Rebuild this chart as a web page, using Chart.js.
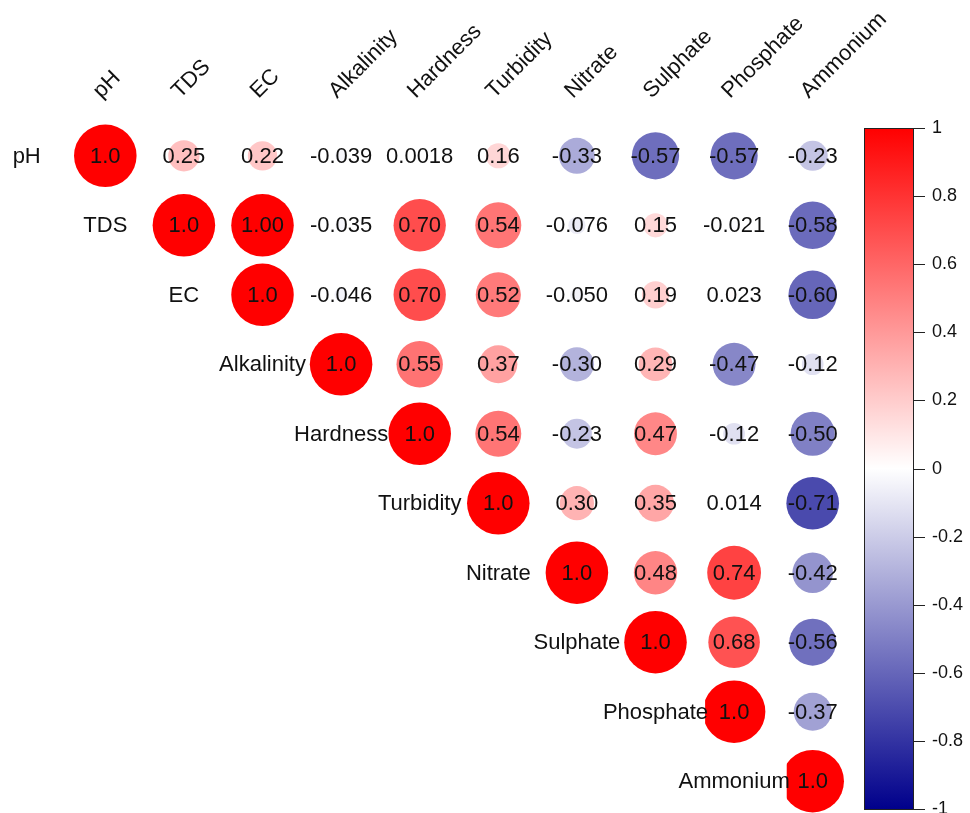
<!DOCTYPE html>
<html>
<head>
<meta charset="utf-8">
<script src="https://cdn.jsdelivr.net/npm/chart.js@4.4.1/dist/chart.umd.min.js"></script>
<style>
  html, body { margin: 0; padding: 0; background: #ffffff; }
  #wrap { width: 970px; height: 813px; }
</style>
</head>
<body>
<div id="wrap"><canvas id="corr" width="970" height="813"></canvas></div>
<script>
// Water-quality parameters, in matrix order
const variables = ['pH', 'TDS', 'EC', 'Alkalinity', 'Hardness', 'Turbidity', 'Nitrate', 'Sulphate', 'Phosphate', 'Ammonium'];

// Upper-triangle correlation coefficients, each row starting at the diagonal
const corrPH        = ['1.0', '0.25', '0.22', '-0.039', '0.0018', '0.16', '-0.33', '-0.57', '-0.57', '-0.23'];
const corrTDS       = ['1.0', '1.00', '-0.035', '0.70', '0.54', '-0.076', '0.15', '-0.021', '-0.58'];
const corrEC        = ['1.0', '-0.046', '0.70', '0.52', '-0.050', '0.19', '0.023', '-0.60'];
const corrAlk       = ['1.0', '0.55', '0.37', '-0.30', '0.29', '-0.47', '-0.12'];
const corrHardness  = ['1.0', '0.54', '-0.23', '0.47', '-0.12', '-0.50'];
const corrTurbidity = ['1.0', '0.30', '0.35', '0.014', '-0.71'];
const corrNitrate   = ['1.0', '0.48', '0.74', '-0.42'];
const corrSulphate  = ['1.0', '0.68', '-0.56'];
const corrPhosphate = ['1.0', '-0.37'];
const corrAmmonium  = ['1.0'];
const corrRows = [corrPH, corrTDS, corrEC, corrAlk, corrHardness, corrTurbidity, corrNitrate, corrSulphate, corrPhosphate, corrAmmonium];

// Colour legend ticks
const legendTicks = [1, 0.8, 0.6, 0.4, 0.2, 0, -0.2, -0.4, -0.6, -0.8, -1];
const legendTickLabels = ['1', '0.8', '0.6', '0.4', '0.2', '0', '-0.2', '-0.4', '-0.6', '-0.8', '-1'];

const FONT = '"Liberation Sans", Arial, Helvetica, sans-serif';

// darkblue -> white -> red
const NEG = [0, 0, 139], MID = [255, 255, 255], POS = [255, 0, 0];
function colorFor(v) {
  const t = Math.max(-1, Math.min(1, v));
  const a = t >= 0 ? POS : NEG;
  const f = Math.abs(t);
  const c = MID.map((m, k) => Math.round(m + (a[k] - m) * f));
  return `rgb(${c[0]},${c[1]},${c[2]})`;
}

// Cells of the upper triangle
const cells = [];
corrRows.forEach((row, i) => {
  row.forEach((txt, k) => {
    cells.push({ x: i + k, y: i, v: parseFloat(txt), label: txt });
  });
});

// Size of one matrix cell in pixels, from the canvas size, padding and axis ranges
function cellSize(chart) {
  const pad = chart.options.layout.padding;
  const sx = chart.options.scales.x, sy = chart.options.scales.y;
  const w = (chart.width - pad.left - pad.right) / (sx.max - sx.min);
  const h = (chart.height - pad.top - pad.bottom) / (sy.max - sy.min);
  return Math.min(w, h);
}

// Text on cells, variable names and the colour legend
const corrDecor = {
  id: 'corrDecor',
  afterDatasetsDraw(chart) {
    const ctx = chart.ctx;
    const xs = chart.scales.x, ys = chart.scales.y, cb = chart.scales.cb;
    const area = chart.chartArea;
    ctx.save();

    // row labels, one column left of the diagonal, on a white backing
    ctx.font = `22px ${FONT}`;
    ctx.textAlign = 'center';
    ctx.textBaseline = 'middle';
    const half = cellSize(chart) * 0.45;
    variables.forEach((name, i) => {
      const cx = xs.getPixelForValue(i - 1);
      const cy = ys.getPixelForValue(i);
      const w = ctx.measureText(name).width;
      ctx.fillStyle = '#ffffff';
      ctx.fillRect(cx - w / 2 - 1, cy - half - 1, w - 2, 2 * half + 2);
      ctx.fillStyle = '#111111';
      ctx.fillText(name, cx, cy + 1);
    });

    // coefficient text
    ctx.fillStyle = '#111111';
    cells.forEach(c => {
      ctx.fillText(c.label, xs.getPixelForValue(c.x), ys.getPixelForValue(c.y) + 1);
    });

    // column labels, rotated 45 degrees
    ctx.textAlign = 'left';
    ctx.textBaseline = 'alphabetic';
    variables.forEach((name, j) => {
      const px = xs.getPixelForValue(j) - 4;
      const py = area.top - 29;
      ctx.save();
      ctx.translate(px, py);
      ctx.rotate(-Math.PI / 4);
      ctx.fillText(name, 0, 0);
      ctx.restore();
    });

    // colour legend bar
    const top = cb.getPixelForValue(1), bottom = cb.getPixelForValue(-1);
    const left = area.right + 12, width = 49;
    const grad = ctx.createLinearGradient(0, top, 0, bottom);
    grad.addColorStop(0, colorFor(1));
    grad.addColorStop(0.5, colorFor(0));
    grad.addColorStop(1, colorFor(-1));
    ctx.fillStyle = grad;
    ctx.fillRect(left, top, width, bottom - top);
    ctx.strokeStyle = '#222222';
    ctx.lineWidth = 1;
    ctx.strokeRect(left + 0.5, top + 0.5, width, bottom - top);

    ctx.font = `18px ${FONT}`;
    ctx.textAlign = 'left';
    ctx.textBaseline = 'middle';
    ctx.fillStyle = '#111111';
    legendTicks.forEach((t, k) => {
      const y = Math.round(cb.getPixelForValue(t)) + 0.5;
      ctx.beginPath();
      ctx.moveTo(left + width, y);
      ctx.lineTo(left + width + 12, y);
      ctx.stroke();
      ctx.fillText(legendTickLabels[k], left + width + 19, y);
    });

    ctx.restore();
  }
};

new Chart(document.getElementById('corr'), {
  type: 'bubble',
  data: {
    datasets: [{
      data: cells,
      clip: false,
      backgroundColor: ctx => colorFor(ctx.raw ? ctx.raw.v : 0),
      borderWidth: 0,
      radius: ctx => ctx.raw ? Math.sqrt(Math.abs(ctx.raw.v)) * cellSize(ctx.chart) * 0.45 : 0,
      hoverRadius: 0
    }]
  },
  options: {
    responsive: false,
    animation: false,
    events: [],
    layout: { autoPadding: false, padding: { left: 66, right: 118, top: 128, bottom: 4 } },
    plugins: { legend: { display: false }, tooltip: { enabled: false } },
    scales: {
      x: { type: 'linear', min: -0.5, max: 9.5, display: false },
      y: { type: 'linear', min: -0.4, max: 9.4, reverse: true, display: false },
      cb: { type: 'linear', axis: 'y', min: -1, max: 1, display: false }
    }
  },
  plugins: [corrDecor]
});
</script>
</body>
</html>
